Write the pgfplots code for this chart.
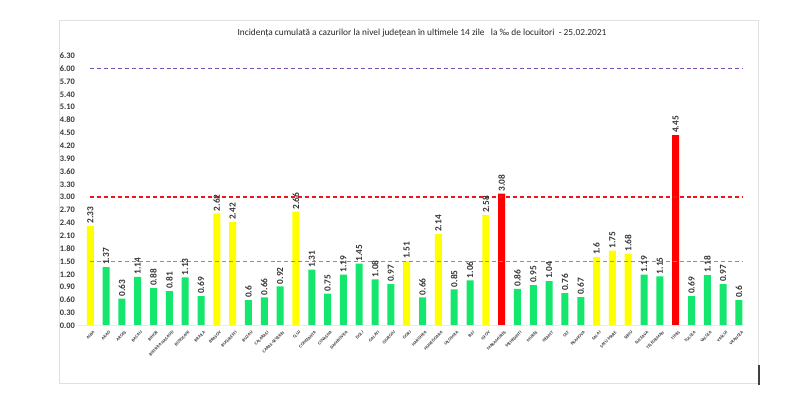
\documentclass[border=0pt]{standalone}
\usepackage{fontspec}
\setmainfont{Carlito}
\usepackage{pgfplots}
\pgfplotsset{compat=1.18}
\definecolor{bgreen}{RGB}{20,230,110}
\definecolor{byellow}{RGB}{255,255,0}
\definecolor{bred}{RGB}{255,0,0}
\definecolor{lpurple}{RGB}{120,80,180}
\definecolor{lred}{RGB}{240,20,30}
\definecolor{lcyan}{RGB}{20,190,235}
\definecolor{txt}{RGB}{55,55,55}
\begin{document}
\begin{tikzpicture}
\path[fill=white] (0,0) rectangle (600pt,303pt);
\draw[black!12, line width=0.6pt] (44.25pt,288pt) rectangle (568.5pt,15.75pt);
\draw[black!75, line width=0.8pt] (569.25pt,29.25pt) -- (569.25pt,14.25pt);
\node[font=\fontsize{7}{8}\selectfont, text=black!85] at (316.5pt,278.25pt)
  {Incidența cumulată a cazurilor la nivel județean în ultimele 14 zile \ \ la ‰ de locuitori \ - 25.02.2021};
\begin{axis}[
  at={(67.7pt,58.7pt)}, anchor=origin,
  scale only axis, width=498.4pt, height=202.5pt,
  xmin=-0.8, xmax=41.2, ymin=0, ymax=6.3,
  axis line style={draw=none},
  major tick length=0pt,
  ytick={0,0.3,0.6,0.9,1.2,1.5,1.8,2.1,2.4,2.7,3.0,3.3,3.6,3.9,4.2,4.5,4.8,5.1,5.4,5.7,6.0,6.3},
  yticklabel style={font=\fontsize{6.3}{7}\selectfont\bfseries, text=txt, anchor=east, inner sep=0pt, xshift=-1.8pt,
    /pgf/number format/.cd, fixed, fixed zerofill, precision=2, assume math mode=true},
  xtick={0,...,41},
  xticklabels={ALBA,ARAD,ARGES,BACAU,BIHOR,BISTRITA NASAUD,BOTOSANI,BRAILA,BRASOV,BUCURESTI,BUZAU,CALARASI,CARAS-SEVERIN,CLUJ,CONSTANTA,COVASNA,DAMBOVITA,DOLJ,GALATI,GIURGIU,GORJ,HARGHITA,HUNEDOARA,IALOMITA,IASI,ILFOV,MARAMURES,MEHEDINTI,MURES,NEAMT,OLT,PRAHOVA,SALAJ,SATU MARE,SIBIU,SUCEAVA,TELEORMAN,TIMIS,TULCEA,VALCEA,VASLUI,VRANCEA},
  xticklabel style={font=\fontsize{3.3}{4}\selectfont\bfseries, text=txt, rotate=45, anchor=east, inner sep=0pt, xshift=-1.2pt, yshift=-5.2pt},
  mybar/.style={ybar, bar width=5.25pt, bar shift=0pt, draw=none,
    nodes near coords={\pgfmathprintnumber[fixed, precision=2, assume math mode=true]{\pgfplotspointmeta}},
    every node near coord/.append style={rotate=90, anchor=west, font=\fontsize{7}{8}\selectfont\bfseries, text=txt, inner sep=1.5pt}},
  myline/.style={sharp plot, no marks, line width=1.15pt, dash pattern=on 3pt off 2.2pt},
  clip=false,
]
\addplot[mybar, fill=bgreen] coordinates {
(1,1.37) (2,0.63) (3,1.14) (4,0.88) (5,0.81) (6,1.13) (7,0.69) (10,0.6) (11,0.66) (12,0.92)
(14,1.31) (15,0.75) (16,1.19) (17,1.45) (18,1.08) (19,0.97) (21,0.66) (23,0.85) (24,1.06)
(27,0.86) (28,0.95) (29,1.04) (30,0.76) (31,0.67) (35,1.19) (36,1.15) (38,0.69) (39,1.18) (40,0.97) (41,0.6)};
\addplot[mybar, fill=byellow] coordinates {
(0,2.33) (8,2.62) (9,2.42) (13,2.66) (20,1.51) (22,2.14) (25,2.58) (32,1.6) (33,1.75) (34,1.68)};
\addplot[mybar, fill=bred] coordinates {(26,3.08) (37,4.45)};
\addplot[sharp plot, no marks, color=black!8, line width=0.5pt] coordinates {(-0.8,0) (41.2,0)};
\addplot[myline, color=lpurple] coordinates {(0,6) (41.2,6)};
\addplot[myline, color=lred] coordinates {(0,3) (41.2,3)};
\addplot[myline, color=lcyan] coordinates {(0,1.5) (41.2,1.5)};
\end{axis}
\end{tikzpicture}
\end{document}
